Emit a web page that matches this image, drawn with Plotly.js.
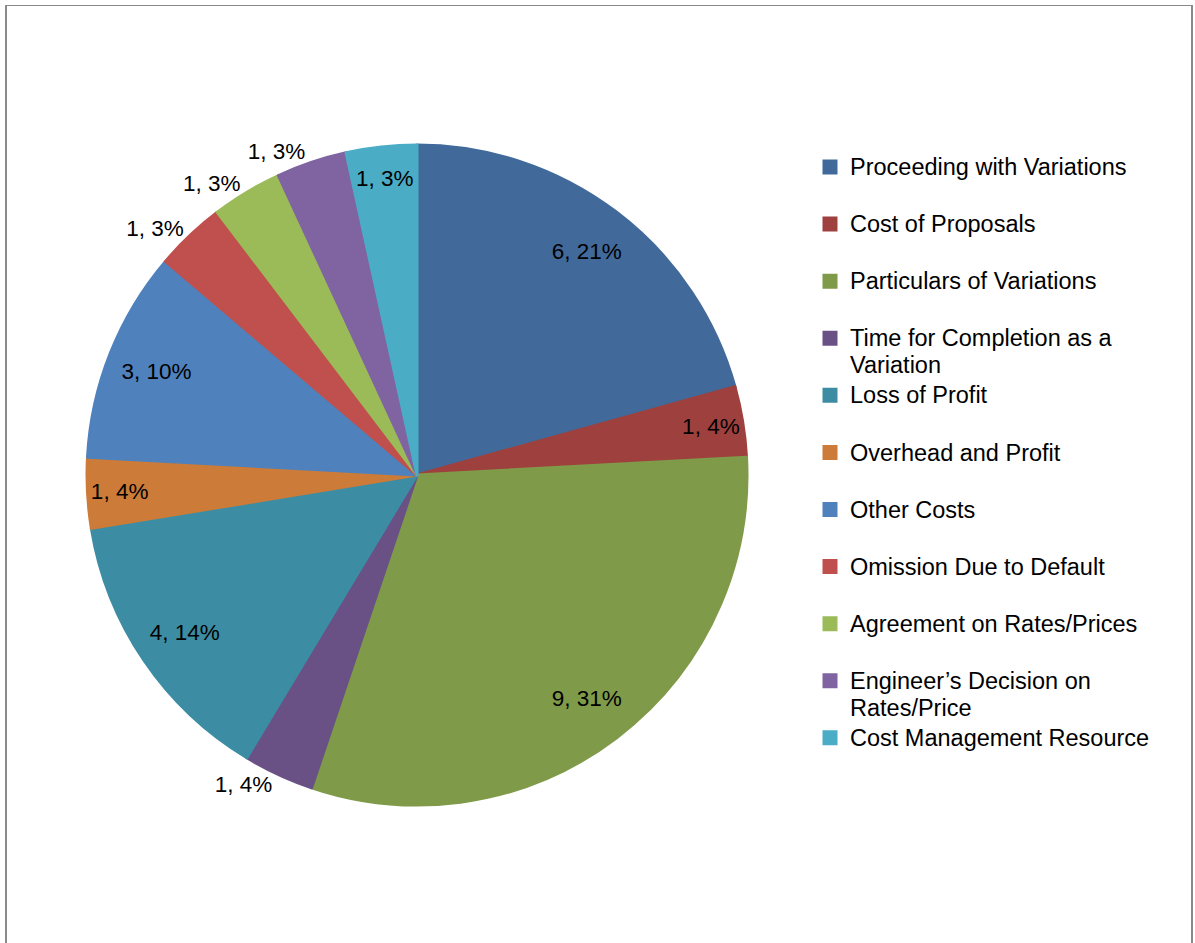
<!DOCTYPE html>
<html>
<head>
<meta charset="utf-8">
<script src="https://cdn.plot.ly/plotly-3.0.1.min.js"></script>
<style>
  html, body { margin: 0; padding: 0; overflow: hidden; background: #fff; }
  #chart { position: absolute; left: 0; top: 0; width: 1195px; height: 943px; }
  #frame { position: absolute; left: 5px; top: 5px; width: 1184px; height: 1000px;
           border-left: 2px solid #8a8a8a; border-top: 1px solid #8a8a8a; border-right: 2px solid #8a8a8a;
           pointer-events: none; }
</style>
</head>
<body>
<div id="chart"></div>
<div id="frame"></div>
<script>
// Categories (legend order, clockwise from 12 o'clock); inner arrays are wrapped lines
var categories = [
  ["Proceeding with Variations"],
  ["Cost of Proposals"],
  ["Particulars of Variations"],
  ["Time for Completion as a", "Variation"],
  ["Loss of Profit"],
  ["Overhead and Profit"],
  ["Other Costs"],
  ["Omission Due to Default"],
  ["Agreement on Rates/Prices"],
  ["Engineer\u2019s Decision on", "Rates/Price"],
  ["Cost Management Resource"]
];
// Counts
var counts = [6, 1, 9, 1, 4, 1, 3, 1, 1, 1, 1];
// Percent labels as shown on the chart
var percentLabels = ["21%", "4%", "31%", "4%", "14%", "4%", "10%", "3%", "3%", "3%", "3%"];
// Slice colours
var sliceColors = ["#416A9B", "#9E413E", "#7F9A48", "#695185", "#3C8DA3", "#CC7B38",
                   "#4F81BD", "#C0504D", "#9BBB59", "#8064A2", "#4BACC6"];
// Label placement per slice
var labelPositions = ["inside", "inside", "inside", "outside", "inside", "inside",
                      "inside", "outside", "outside", "outside", "inside"];

var FONT = "'Liberation Sans', Arial, sans-serif";
var TXT = 22.5;
var LEG = 23.5;
var W = 1195, H = 943;

var sliceText = counts.map(function (v, i) { return v + ", " + percentLabels[i]; });
// Legend names: every entry takes two lines so that the spacing is even
var legendNames = categories.map(function (lines) {
  var l = lines.map(function (s) { return '<span style="font-size:' + LEG + 'px">' + s + '</span>'; });
  if (l.length < 2) l.push(" ");
  return l.join("<br>");
});

var domain = { x: [87 / W, 747 / W], y: [1 - 805 / H, 1 - 145 / H] };

// Full pie: the slices and the legend
var pieTrace = {
  type: "pie",
  labels: legendNames,
  values: counts,
  textinfo: "none",
  sort: false,
  direction: "clockwise",
  rotation: 0,
  marker: { colors: sliceColors, line: { color: sliceColors, width: 3 } },
  hoverinfo: "skip",
  domain: domain
};

// Transparent ring on top: carries the data labels near the rim
var labelTrace = {
  type: "pie",
  labels: legendNames,
  values: counts,
  hole: 0.7,
  text: sliceText,
  texttemplate: "%{text}",
  textinfo: "text",
  textposition: labelPositions,
  insidetextorientation: "horizontal",
  sort: false,
  direction: "clockwise",
  rotation: 0,
  showlegend: false,
  marker: { colors: sliceColors.map(function () { return "rgba(0,0,0,0)"; }), line: { width: 0 } },
  textfont: { family: FONT, size: TXT, color: "#000" },
  outsidetextfont: { family: FONT, size: TXT, color: "#000" },
  insidetextfont: { family: FONT, size: TXT, color: "#000" },
  hoverinfo: "skip",
  domain: domain
};

var layout = {
  width: W,
  height: H,
  margin: { l: 0, r: 0, t: 0, b: 0 },
  paper_bgcolor: "#fff",
  plot_bgcolor: "#fff",
  font: { family: FONT, color: "#000" },
  showlegend: true,
  uniformtext: { mode: "show", minsize: TXT },
  legend: {
    x: 810 / W,
    xanchor: "left",
    y: 1 - 147 / H,
    yanchor: "top",
    valign: "top",
    font: { family: FONT, size: 20.8, color: "#000" },
    bgcolor: "rgba(0,0,0,0)",
    borderwidth: 0
  }
};

Plotly.newPlot("chart", [pieTrace, labelTrace], layout, { displayModeBar: false, staticPlot: true });
</script>
</body>
</html>
